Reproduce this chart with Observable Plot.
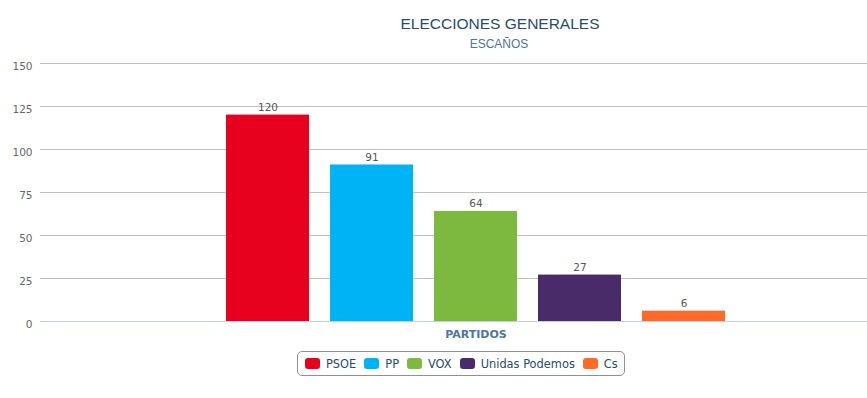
<!DOCTYPE html>
<html>
<head>
<meta charset="utf-8">
<script src="https://cdn.jsdelivr.net/npm/d3@7"></script>
<script src="https://cdn.jsdelivr.net/npm/@observablehq/plot@0.6"></script>
<style>
html, body { margin: 0; padding: 0; background: #fff; }
body { width: 867px; height: 398px; position: relative; overflow: hidden; font-family: "DejaVu Sans", Verdana, sans-serif; }
#head { position: relative; height: 55px; }
#title { position: absolute; left: 500px; top: 16px; transform: translateX(-50%); font: 15.5px/1 "Liberation Sans", Arial, sans-serif; color: #274b6d; white-space: nowrap; }
#subtitle { position: absolute; left: 499px; top: 38px; transform: translateX(-50%); font: 12px/1 "Liberation Sans", Arial, sans-serif; color: #4d759e; white-space: nowrap; }
#chart svg { display: block; }
#legend { position: absolute; left: 297px; top: 351px; height: 25px; box-sizing: border-box; border: 1px solid #909090; border-radius: 5px; display: flex; align-items: center; padding: 0 6px 0 7px; }
.item { display: flex; align-items: center; margin-right: 8px; font-size: 11.4px; color: #274b6d; white-space: nowrap; }
.item:last-child { margin-right: 0; }
.sw { width: 15px; height: 11px; border-radius: 3px; margin-right: 6px; }
</style>
</head>
<body>
<div id="head"><div id="title"></div><div id="subtitle"></div></div>
<div id="chart"></div>
<div id="legend"></div>
<script>
const titleText = "ELECCIONES GENERALES";
const subtitleText = "ESCAÑOS";
const xTitle = "PARTIDOS";
const parties = ["PSOE", "PP", "VOX", "Unidas Podemos", "Cs"];
const seats = [120, 91, 64, 27, 6];
const colors = ["#e8001f", "#00b3f5", "#7db83f", "#4a2b6a", "#ff6b27"];
const yTicks = [0, 25, 50, 75, 100, 125, 150];

document.getElementById("title").textContent = titleText;
document.getElementById("subtitle").textContent = subtitleText;

const data = parties.map((p, i) => ({party: p, seats: seats[i]}));

const chart = Plot.plot({
  width: 867,
  height: 290,
  marginTop: 8,
  marginBottom: 24,
  marginLeft: 40,
  marginRight: 0,
  style: {fontFamily: '"DejaVu Sans", Verdana, sans-serif', fontSize: "10.5px", color: "#666", background: "#fff"},
  x: {domain: parties, range: [225, 727], paddingInner: 0.2, paddingOuter: 0},
  y: {domain: [0, 150]},
  color: {domain: parties, range: colors},
  marks: [
    Plot.ruleY(yTicks.filter(d => d > 0), {stroke: "#c0c0c0", strokeOpacity: 1}),
    Plot.ruleY([0], {stroke: "#c0d0e0", strokeOpacity: 1}),
    Plot.barY(data, {x: "party", y: "seats", fill: "party"}),
    Plot.text(data, {x: "party", y: "seats", text: d => String(d.seats), lineAnchor: "bottom", dy: -4, fill: "#555", fontSize: 10.5}),
    Plot.axisY({ticks: yTicks, tickSize: 0, tickPadding: 8, label: null, dy: 3, fill: "#666"}),
    Plot.axisX({ticks: [parties[2]], tickSize: 0, tickPadding: 9, tickFormat: () => xTitle, label: null, fontWeight: "bold", fill: "#4d759e", fontSize: 11})
  ]
});
document.getElementById("chart").appendChild(chart);

const legend = document.getElementById("legend");
parties.forEach((p, i) => {
  const item = document.createElement("div");
  item.className = "item";
  const sw = document.createElement("span");
  sw.className = "sw";
  sw.style.background = colors[i];
  const t = document.createElement("span");
  t.textContent = p;
  item.appendChild(sw);
  item.appendChild(t);
  legend.appendChild(item);
});
</script>
</body>
</html>
